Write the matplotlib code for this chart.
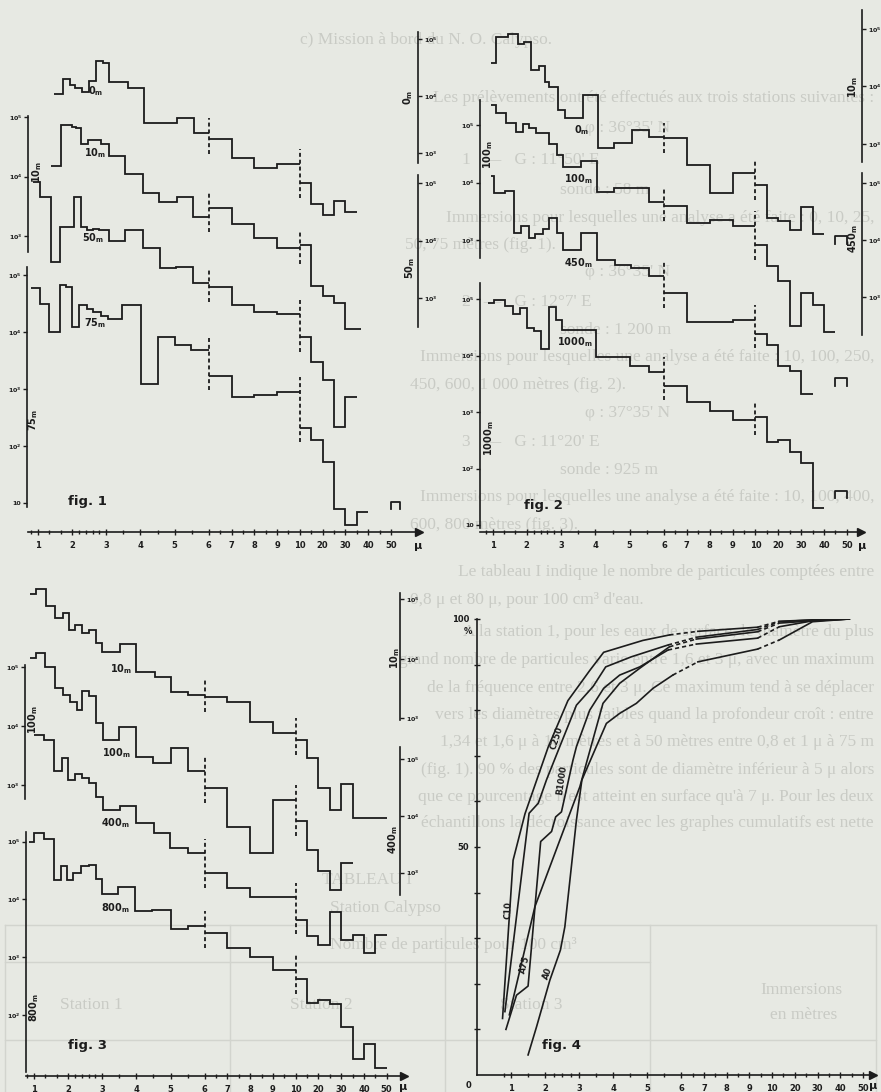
import numpy as np
import matplotlib
matplotlib.use('Agg')
import matplotlib.pyplot as plt
from matplotlib.ticker import FuncFormatter, LogLocator, NullLocator

plt.rcParams['font.family'] = ['DejaVu Sans']
plt.rcParams['font.weight'] = 'bold'
plt.rcParams['mathtext.default'] = 'bf'

# particle counts per 100 cm3, size classes in microns
# fig. 1 - station 1
f1_0m_edges = [1.46, 1.73, 1.94, 2.07, 2.29, 2.49, 2.7, 2.9, 3.09, 3.63, 4.09, 5.06, 5.58,
               6, 7, 8, 9, 10, 15, 20, 25, 30, 35]
f1_0m = [10800, 20000, 15600, 14000, 11600, 18500, 40600, 38000, 17400, 13600, 3360, 4070, 2240,
         1760, 810, 540, 645, 297, 127, 81, 145, 91]
f1_10m_edges = [1.39, 1.68, 2.0, 2.1, 2.27, 2.46, 2.85, 3.09, 3.56, 4.07, 4.53, 5.06, 5.55,
                6, 7, 8, 9, 10, 15, 20, 25, 30, 37]
f1_10m = [15000, 73000, 69000, 65000, 35000, 41000, 35000, 22000, 11000, 5200, 3800, 4600, 2100,
          2900, 1600, 910, 620, 700, 145, 98, 75, 27]
f1_50m_edges = [0.85, 1.06, 1.37, 1.63, 2.04, 2.27, 2.43, 2.62, 2.8, 3.07, 3.56, 4.07, 4.58, 5.05, 5.55,
                6, 7, 8, 9, 10, 15, 20, 25, 30, 35]
f1_50m = [105000, 58000, 4300, 17000, 58000, 17000, 15000, 16000, 15000, 10000, 15000, 7300, 3300, 3500, 1850,
          1550, 760, 580, 520, 210, 78, 37, 5.8, 19]
f1_75m_edges = [0.8, 1.06, 1.32, 1.63, 1.82, 2.0, 2.21, 2.43, 2.62, 2.85, 3.05, 3.47, 4.02, 4.51, 5.0, 5.48,
                6, 7, 8, 9, 10, 15, 20, 25, 30, 35, 40]
f1_75m = [59000, 31000, 10000, 67000, 62000, 12000, 30000, 25000, 22000, 19000, 17000, 30000, 1200, 8200, 5900, 4800,
          1700, 710, 800, 900, 210, 130, 52, 7.8, 4.1, 6.9]
f1_75m_extra = (50, 54, 10.5)

# fig. 2 - station 2
f2_10m_edges = [0.96, 1.10, 1.44, 1.73, 1.93, 2.12, 2.35, 2.54, 2.66, 2.9, 3.1, 3.63, 4.09, 4.55, 5.07, 5.57,
                6, 7, 8, 9, 10, 15, 20, 25, 30, 35, 40]
f2_10m = [26000, 72000, 81000, 54000, 60000, 19400, 22700, 12100, 9700, 3900, 2800, 7100, 840, 1050, 1750, 1300,
          1250, 430, 142, 310, 194, 51, 45, 32, 81, 27]
f2_10m_extra = (45, 50, 25)
f2_100m_edges = [0.96, 1.10, 1.39, 1.69, 1.88, 2.05, 2.27, 2.66, 2.87, 3.06, 3.58, 4.06, 4.55, 5.07, 5.57,
                 6, 7, 8, 9, 10, 15, 20, 25, 30, 35, 40, 45]
f2_100m = [220000, 163000, 107000, 77000, 104000, 88000, 72000, 47000, 30000, 18400, 24000, 6900, 7900, 7900, 4600,
           3900, 2000, 2200, 1750, 820, 350, 190, 32, 118, 74, 25]
f2_450m_edges = [0.96, 1.05, 1.35, 1.64, 1.83, 2.05, 2.25, 2.46, 2.66, 2.87, 3.06, 3.58, 4.06, 4.58, 5.04, 5.57,
                 6, 7, 8, 9, 10, 15, 20, 25, 30, 35]
f2_450m = [134000, 67000, 74000, 13500, 17400, 10800, 12900, 15500, 24400, 13500, 6600, 13500, 4500, 3700, 3250, 2300,
           1170, 360, 360, 400, 227, 146, 62, 50, 20]
f2_450m_extra = (45, 50, 37)
f2_1000m_edges = [0.86, 1.05, 1.35, 1.61, 1.81, 2.0, 2.22, 2.42, 2.64, 2.85, 3.03, 4.02, 5.01, 5.55,
                  6, 7, 8, 9, 10, 15, 20, 25, 30, 35, 40]
f2_1000m = [87000, 97000, 76000, 56000, 69000, 31000, 27000, 13000, 74000, 43000, 29000, 9400, 6600, 5200,
            2900, 1500, 1060, 720, 810, 290, 320, 200, 126, 20]
f2_1000m_extra = (45, 50, 40)

# fig. 3 - station 3
f3_10m_edges = [0.88, 1.07, 1.35, 1.62, 1.86, 2.03, 2.21, 2.42, 2.6, 2.81, 3.0, 3.52, 3.99, 4.55, 5.01, 5.5,
                6, 7, 8, 9, 10, 15, 20, 25, 30, 35, 50]
f3_10m = [123000, 147000, 77000, 48000, 58000, 30000, 37000, 27500, 30000, 18200, 13200, 17800, 6000, 5000, 2800, 2450,
          2300, 1900, 880, 570, 430, 212, 67, 29, 79, 21]
f3_100m_edges = [0.88, 1.07, 1.33, 1.62, 1.86, 2.05, 2.25, 2.42, 2.6, 2.81, 3.03, 3.49, 3.99, 4.49, 5.01, 5.5,
                 6, 7, 8, 9, 10, 15, 20, 25, 30, 35]
f3_100m = [142000, 177000, 100000, 44000, 34000, 26000, 18800, 40000, 32000, 11200, 5900, 9800, 3000, 2350, 4200, 1760,
           880, 196, 71, 560, 240, 78, 34, 16.6, 48]
f3_400m_edges = [1.0, 1.3, 1.59, 1.82, 2.01, 2.21, 2.42, 2.62, 2.83, 3.03, 3.52, 3.99, 4.52, 4.98, 5.5,
                 6, 7, 8, 9, 10, 15, 20, 25, 30, 35, 40, 45, 50]
f3_400m = [269000, 219000, 63000, 104000, 43000, 56000, 46000, 38000, 22000, 12800, 15000, 7400, 5100, 2700, 2200,
           970, 530, 370, 370, 148, 76, 53, 205, 65, 79, 39, 79]
f3_800m_edges = [0.84, 1.0, 1.3, 1.59, 1.79, 1.98, 2.15, 2.37, 2.6, 2.81, 2.99, 3.45, 3.97, 4.47, 5.01, 5.5,
                 6, 7, 8, 9, 10, 15, 20, 25, 30, 35, 40, 45, 50]
f3_800m = [100000, 143000, 110000, 21700, 38000, 21700, 29000, 38000, 40000, 22400, 12400, 16600, 6400, 6600, 3050, 3500,
           2600, 1430, 1000, 600, 417, 164, 183, 155, 62, 17, 32, 12]

# fig. 4 - cumulative percentages
c10_x = [0.75, 1.06, 1.41, 1.75, 2.09, 2.67, 3.31, 3.72, 4.87, 5.65, 6.73, 9.36, 13.2, 27.8, 44]
c10_y = [12.4, 47.1, 57.3, 64.6, 71.9, 82.1, 88.7, 92.7, 95.3, 96.5, 97.3, 98.2, 99.5, 99.8, 100]
c250_x = [0.82, 1.53, 1.8, 2.04, 2.43, 2.92, 3.41, 3.78, 4.53, 5.61, 6.66, 9.36, 13.2, 27.8, 44]
c250_y = [13.9, 57.4, 59.6, 64.7, 72, 81.1, 85.2, 89.5, 91.7, 94.3, 96, 97.7, 99.4, 99.8, 100]
b1000_x = [0.85, 1.16, 1.5, 1.87, 2.19, 2.31, 2.48, 2.82, 2.92, 3.31, 3.72, 4.19, 4.78, 5.61, 6.66, 9.36, 13.2, 27.8, 44]
b1000_y = [10.0, 17.5, 19.5, 51.2, 53.4, 56.6, 57.7, 69.1, 72, 80, 84.8, 87.7, 89.5, 93.2, 94.5, 95.8, 98.3, 99.6, 100]
a75_x = [0.95, 1.7, 3.02, 3.7, 4.19, 4.78, 5.65, 6.66, 9.36, 13.2, 27.8, 44]
a75_y = [13.2, 36.9, 63.2, 81.5, 85.9, 89.2, 93.9, 95.6, 97.2, 99.1, 99.6, 100]
a0_x = [1.5, 1.75, 2.14, 2.45, 2.58, 2.92, 3.08, 3.8, 4.19, 4.68, 5.17, 5.75, 6.73, 9.36, 13.2, 27.8, 44]
a0_y = [4.4, 10.6, 20.8, 27.4, 32.5, 55.9, 64.7, 77.1, 79.3, 81.5, 84.8, 87.7, 90.6, 93.4, 95.4, 99.4, 100]

x_major = [1, 2, 3, 4, 5, 6, 7, 8, 9, 10, 20, 30, 40, 50]
x_minor = [0.8, 1.33, 1.67, 2.2, 2.4, 2.6, 2.8, 3.5, 4.5, 5.5, 6.5, 7.5, 8.5, 9.5, 15, 25, 35, 45]
x_minor4 = [0.8, 1.5, 2.25, 2.5, 2.75, 3.5, 4.5, 5.5, 6.5, 7.5, 8.5, 9.5, 15, 25, 35, 45]

INK = '#1c1c1c'
LW = 1.3
W, H = 881, 1092

# the plates use a broken micron axis: 1..6 wide, 6..10 and 10..50 compressed
XB = [0, 6, 10, 50, 100]
UB = [0, 9, 13, 17, 22]


def fwd(x):
    return np.interp(x, XB, UB)


def inv(u):
    return np.interp(u, UB, XB)


def px_rect(l, t, r, b):
    return [l / W, 1 - b / H, (r - l) / W, (b - t) / H]


def dec_label(v, pos):
    e = int(round(np.log10(v)))
    return '10' if e == 1 else r'$10^{%d}$' % e


fig = plt.figure(figsize=(W / 100, H / 100), dpi=100)
fig.patch.set_facecolor('#e7e9e3')

# faint page text behind the plates
bg = fig.add_axes([0, 0, 1, 1], zorder=-5)
bg.set_xlim(0, W)
bg.set_ylim(H, 0)
bg.axis('off')
R = 874  # right margin of the justified page text
page_lines = [
    (300, 40, "c) Mission à bord du N. O. Calypso.", 'left'),
    (R, 98, "Les prélèvements ont été effectués aux trois stations suivantes :", 'right'),
    (585, 128, "φ : 36°35' N", 'left'),
    (462, 160, "1   —   G : 11°50' E", 'left'),
    (560, 190, "sonde : 58 m", 'left'),
    (R, 218, "Immersions pour lesquelles une analyse a été faite : 0, 10, 25,", 'right'),
    (405, 245, "50, 75 mètres (fig. 1).", 'left'),
    (585, 272, "φ : 36°35' N", 'left'),
    (462, 302, "2   —   G : 12°7' E", 'left'),
    (560, 330, "sonde : 1 200 m", 'left'),
    (R, 357, "Immersions pour lesquelles une analyse a été faite : 10, 100, 250,", 'right'),
    (410, 385, "450, 600, 1 000 mètres (fig. 2).", 'left'),
    (585, 413, "φ : 37°35' N", 'left'),
    (462, 442, "3   —   G : 11°20' E", 'left'),
    (560, 470, "sonde : 925 m", 'left'),
    (R, 497, "Immersions pour lesquelles une analyse a été faite : 10, 100, 400,", 'right'),
    (410, 525, "600, 800 mètres (fig. 3).", 'left'),
    (R, 572, "Le tableau I indique le nombre de particules comptées entre", 'right'),
    (410, 600, "0,8 μ et 80 μ, pour 100 cm³ d'eau.", 'left'),
    (R, 632, "A la station 1, pour les eaux de surface, le diamètre du plus", 'right'),
    (R, 660, "grand nombre de particules varie entre 1,6 et 3 μ, avec un maximum", 'right'),
    (R, 688, "de la fréquence entre 2,6 et 3 μ. Ce maximum tend à se déplacer", 'right'),
    (R, 715, "vers les diamètres plus faibles quand la profondeur croît : entre", 'right'),
    (R, 742, "1,34 et 1,6 μ à 10 mètres et à 50 mètres entre 0,8 et 1 μ à 75 m", 'right'),
    (R, 770, "(fig. 1). 90 % des particules sont de diamètre inférieur à 5 μ alors", 'right'),
    (R, 797, "que ce pourcentage n'est atteint en surface qu'à 7 μ. Pour les deux", 'right'),
    (R, 823, "échantillons la décroissance avec les graphes cumulatifs est nette", 'right'),
    (322, 880, "TABLEAU I", 'left'),
    (330, 908, "Station Calypso", 'left'),
    (330, 945, "Nombre de particules pour 100 cm³", 'left'),
    (60, 1005, "Station 1", 'left'),
    (290, 1005, "Station 2", 'left'),
    (500, 1005, "Station 3", 'left'),
    (760, 990, "Immersions", 'left'),
    (770, 1015, "en mètres", 'left'),
]
for x, y, s, ha in page_lines:
    bg.text(x, y, s, fontsize=12.5, family='Liberation Serif', fontweight='normal',
            color='#c9cbc5', va='center', ha=ha)
for y, x0, x1 in [(925, 5, 876), (962, 5, 650), (1040, 5, 876)]:
    bg.plot([x0, x1], [y, y], color='#d2d4ce', lw=1)
for x in [5, 230, 445, 650, 876]:
    bg.plot([x, x], [925, 1092], color='#d2d4ce', lw=1)


def frame(l, r, axis_y, tick1, ppu, minor, top=20):
    ax = fig.add_axes(px_rect(l, top, r, axis_y))
    ax.set_xscale('function', functions=(fwd, inv))
    ax.set_xlim(inv(1.5 + (l - tick1) / ppu), inv(1.5 + (r - tick1) / ppu))
    ax.patch.set_visible(False)
    for s in ('left', 'right', 'top'):
        ax.spines[s].set_visible(False)
    ax.spines['bottom'].set_linewidth(1.2)
    ax.spines['bottom'].set_color(INK)
    ax.yaxis.set_visible(False)
    ax.set_xticks(x_major)
    ax.set_xticklabels([str(v) for v in x_major])
    ax.set_xticks(minor, minor=True)
    ax.tick_params(axis='x', which='both', direction='inout', width=1, color=INK)
    ax.tick_params(axis='x', which='major', length=5, labelsize=6, pad=4, labelcolor=INK)
    ax.tick_params(axis='x', which='minor', length=3)
    ax.plot(1, 0, marker='>', ms=6, color=INK, transform=ax.transAxes, clip_on=False)
    return ax


def series_ax(main, l, r, side, bar_x, top, bot, hi, lo):
    ax = fig.add_axes(px_rect(l, top, r, bot), sharex=main)
    ax.set_yscale('log')
    per = (lo[1] - hi[1]) / (hi[0] - lo[0])
    ax.set_ylim(10 ** (lo[0] - (bot - lo[1]) / per), 10 ** (hi[0] + (hi[1] - top) / per))
    ax.patch.set_visible(False)
    for s in ('left', 'right', 'top', 'bottom'):
        ax.spines[s].set_visible(s == side)
    ax.spines[side].set_position(('axes', (bar_x - l) / (r - l)))
    ax.spines[side].set_linewidth(1.2)
    ax.spines[side].set_color(INK)
    ax.xaxis.set_visible(False)
    ax.yaxis.set_ticks_position(side)
    ax.yaxis.set_major_locator(LogLocator(base=10, numticks=12))
    ax.yaxis.set_minor_locator(NullLocator())
    ax.yaxis.set_major_formatter(FuncFormatter(dec_label))
    ax.tick_params(axis='y', direction='out', length=3, width=1, labelsize=4.6, pad=1,
                   color=INK, labelcolor=INK)
    return ax


def draw_hist(ax, edges, vals, extra=None):
    edges = np.asarray(edges, float)
    vals = np.asarray(vals, float)
    cuts = [0] + [int(np.where(edges == b)[0][0]) for b in (6, 10)] + [len(edges) - 1]
    for a, b in zip(cuts[:-1], cuts[1:]):
        ax.stairs(vals[a:b], edges[a:b + 1], baseline=None, color=INK, lw=LW, clip_on=False)
    for c in cuts[1:-1]:
        lo_v = min(vals[c - 1], vals[c]) / 1.8
        hi_v = max(vals[c - 1], vals[c]) * 1.8
        ax.plot([edges[c]] * 2, [lo_v, hi_v], color=INK, lw=LW, ls=(0, (2.2, 1.6)), clip_on=False)
    if extra is not None:
        a, b, v = extra
        ax.plot([a, a, b, b], [v / 1.35, v, v, v / 1.35], color=INK, lw=LW, clip_on=False)


def ftext(x, y, s, size=7, rot=0, **kw):
    fig.text(x / W, 1 - y / H, s, fontsize=size, rotation=rot, ha='center', va='center',
             color=INK, **kw)


# ---------- fig. 1 ----------
m1 = frame(28, 419, 532, 38.0, 22.77, x_minor)
a = series_ax(m1, 28, 419, 'right', 418, 32, 163, (5, 39), (3, 153))
draw_hist(a, f1_0m_edges, f1_0m)
a = series_ax(m1, 28, 419, 'left', 28, 116, 252, (5, 117), (3, 236))
draw_hist(a, f1_10m_edges, f1_10m)
a = series_ax(m1, 28, 419, 'right', 418, 175, 327, (5, 183), (3, 298))
draw_hist(a, f1_50m_edges, f1_50m)
a = series_ax(m1, 28, 419, 'left', 27, 267, 507, (5, 275), (1, 503))
draw_hist(a, f1_75m_edges, f1_75m, f1_75m_extra)
ftext(96, 91, r'0$_{m}$')
ftext(95, 153, r'10$_{m}$')
ftext(93, 238, r'50$_{m}$')
ftext(95, 323, r'75$_{m}$')
ftext(37, 172, r'10$_{m}$', rot=90)
ftext(33, 420, r'75$_{m}$', rot=90)
ftext(408, 97, r'0$_{m}$', rot=90)
ftext(410, 268, r'50$_{m}$', rot=90)
ftext(87, 502, 'fig. 1', size=9.5)
ftext(418, 546, 'μ', size=8)

# ---------- fig. 2 ----------
m2 = frame(480, 861, 532, 492.5, 22.86, x_minor)
a = series_ax(m2, 480, 861, 'right', 862, 10, 162, (5, 29), (3, 144))
draw_hist(a, f2_10m_edges, f2_10m, f2_10m_extra)
a = series_ax(m2, 480, 861, 'left', 480, 100, 258, (5, 125), (3, 240))
draw_hist(a, f2_100m_edges, f2_100m)
a = series_ax(m2, 480, 861, 'right', 862, 173, 335, (5, 183.3), (3, 297))
draw_hist(a, f2_450m_edges, f2_450m, f2_450m_extra)
a = series_ax(m2, 480, 861, 'left', 480, 283, 528, (5, 299.3), (1, 525))
draw_hist(a, f2_1000m_edges, f2_1000m, f2_1000m_extra)
ftext(582, 130, r'0$_{m}$')
ftext(578, 179, r'100$_{m}$')
ftext(578, 263, r'450$_{m}$')
ftext(575, 342, r'1000$_{m}$')
ftext(853, 87, r'10$_{m}$', rot=90)
ftext(488, 155, r'100$_{m}$', rot=90)
ftext(853, 239, r'450$_{m}$', rot=90)
ftext(489, 438, r'1000$_{m}$', rot=90)
ftext(543, 505, 'fig. 2', size=9.5)
ftext(862, 546, 'μ', size=8)

# ---------- fig. 3 ----------
m3 = frame(26, 404, 1076, 34.0, 22.75, x_minor)
a = series_ax(m3, 26, 404, 'right', 400, 593, 720, (5, 599.3), (3, 718.3))
draw_hist(a, f3_10m_edges, f3_10m)
a = series_ax(m3, 26, 404, 'left', 25, 665, 799, (5, 667.3), (3, 785))
draw_hist(a, f3_100m_edges, f3_100m)
a = series_ax(m3, 26, 404, 'right', 400, 747, 895, (5, 759.3), (3, 872.7))
draw_hist(a, f3_400m_edges, f3_400m)
a = series_ax(m3, 26, 404, 'left', 26, 832, 1072, (5, 841.7), (2, 1015))
draw_hist(a, f3_800m_edges, f3_800m)
ftext(121, 669, r'10$_{m}$')
ftext(116, 753, r'100$_{m}$')
ftext(115, 823, r'400$_{m}$')
ftext(115, 908, r'800$_{m}$')
ftext(395, 658, r'10$_{m}$', rot=90)
ftext(33, 720, r'100$_{m}$', rot=90)
ftext(393, 840, r'400$_{m}$', rot=90)
ftext(34, 1008, r'800$_{m}$', rot=90)
ftext(88, 1046, 'fig. 3', size=9.5)
ftext(403, 1087, 'μ', size=8)

# ---------- fig. 4 ----------
ax4 = frame(477, 873, 1075, 477 + 1.5 * 22.7, 22.7, x_minor4, top=619)
ax4.yaxis.set_visible(True)
ax4.spines['left'].set_visible(True)
ax4.spines['left'].set_linewidth(1.2)
ax4.spines['left'].set_color(INK)
ax4.set_ylim(0, 100)
ax4.set_yticks(range(10, 101, 10))
ax4.set_yticklabels(['50' if v == 50 else '100' if v == 100 else '' for v in range(10, 101, 10)])
ax4.tick_params(axis='y', direction='inout', length=5, width=1, labelsize=6, pad=3,
                color=INK, labelcolor=INK)

for xs, ys in [(c10_x, c10_y), (c250_x, c250_y), (b1000_x, b1000_y), (a75_x, a75_y), (a0_x, a0_y)]:
    start = 0
    for i in range(len(xs) - 1):
        if xs[i] < 6 < xs[i + 1] or xs[i] < 10 < xs[i + 1]:
            ax4.plot(xs[start:i + 1], ys[start:i + 1], color=INK, lw=1.2)
            ax4.plot(xs[i:i + 2], ys[i:i + 2], color=INK, lw=1.2, ls=(0, (2.5, 1.8)))
            start = i + 1
    ax4.plot(xs[start:], ys[start:], color=INK, lw=1.2)

ftext(557, 738, 'C250', size=6, rot=72)
ftext(562, 780, 'B1000', size=6, rot=82)
ftext(508, 910, 'C10', size=6, rot=88)
ftext(525, 965, 'A75', size=6, rot=75)
ftext(548, 973, 'A0', size=6, rot=70)
ftext(468, 632, '%', size=6)
ftext(469, 1086, '0', size=6)
ftext(562, 1045, 'fig. 4', size=9.5)
ftext(873, 1086, 'μ', size=8)

fig.savefig('out.png', dpi=100, facecolor=fig.get_facecolor())
